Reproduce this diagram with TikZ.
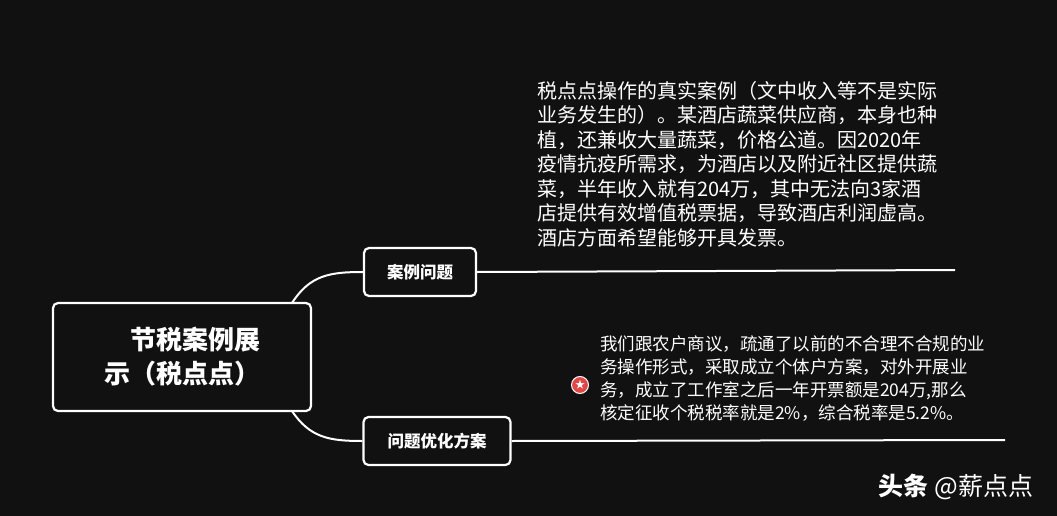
\documentclass[tikz,border=0pt]{standalone}
\usepackage{fontspec}
\setmainfont{Noto Sans CJK SC}
\usepackage{tikz}
\usetikzlibrary{positioning}
\definecolor{bgdark}{HTML}{111111}
\definecolor{starred}{HTML}{E04848}
\tikzset{
  topic/.style={draw=white, line width=2.2pt, rounded corners=5pt, text=white, font=\bfseries},
  branch/.style={white, line width=2pt},
  note/.style={text=white, anchor=north west, align=left, inner sep=0pt}
}
\begin{document}
\begin{tikzpicture}[x=1pt,y=-1pt]
  \fill[bgdark] (0,0) rectangle (1057,516);
  \useasboundingbox (0,0) rectangle (1057,516);

  \node[topic, minimum width=258pt, minimum height=108pt, align=left, font=\bfseries\fontsize{26}{34}\selectfont] (root) at (182,357) {\hspace*{1em}节税案例展\\示（税点点）};
  \node[topic, minimum width=112pt, minimum height=48pt, font=\bfseries\fontsize{16.5}{18}\selectfont] (case) at (420,272) {案例问题};
  \node[topic, minimum width=147pt, minimum height=48pt, font=\bfseries\fontsize{16.5}{18}\selectfont] (plan) at (437,441) {问题优化方案};

  \coordinate (caseend) at (955,270);
  \coordinate (planend) at (1005,440);
  \coordinate (rtop) at (292,303);
  \coordinate (rbot) at (292,411);

  \draw[branch] (rtop) .. controls (310,275) and (330,272) .. (case.west);
  \draw[branch] (rbot) .. controls (310,438) and (330,441) .. (plan.west);
  \draw[branch] (case.east) -- (caseend);
  \draw[branch] (plan.east) -- (planend);

  \node[note, font=\fontsize{20}{24.5}\selectfont] (casetext) at (537,81) {税点点操作的真实案例（文中收入等不是实际\\业务发生的）。某酒店蔬菜供应商，本身也种\\植，还兼收大量蔬菜，价格公道。因2020年\\疫情抗疫所需求，为酒店以及附近社区提供蔬\\菜，半年收入就有204万，其中无法向3家酒\\店提供有效增值税票据，导致酒店利润虚高。\\酒店方面希望能够开具发票。};

  \node[note, font=\fontsize{17.5}{23}\selectfont] (plantext) at (600,336) {我们跟农户商议，疏通了以前的不合理不合规的业\\务操作形式，采取成立个体户方案，对外开展业\\务，成立了工作室之后一年开票额是204万,那么\\核定征收个税税率就是2\%，综合税率是5.2\%。};

  \node[circle, fill=starred, draw=white, line width=1pt, minimum size=17pt, inner sep=0pt, text=white, font=\fontsize{10}{10}\selectfont] (star) at (580,385) {★};

  \node[text=white, font=\fontsize{25}{27}\selectfont] (mark) at (956,487) {\textbf{头条} @薪点点};
\end{tikzpicture}
\end{document}
